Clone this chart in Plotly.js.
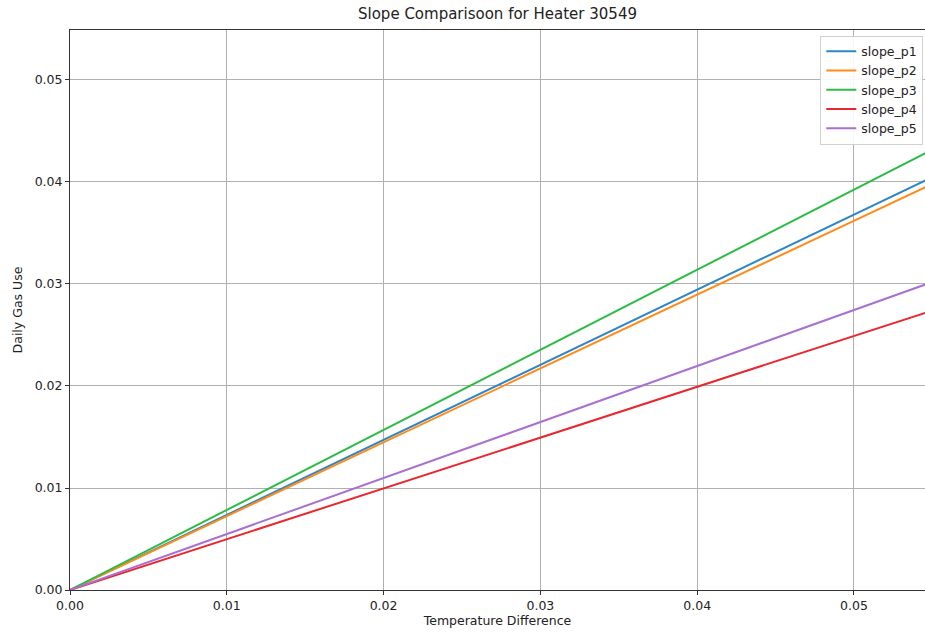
<!DOCTYPE html>
<html>
<head>
<meta charset="utf-8">
<script src="https://cdn.plot.ly/plotly-3.0.1.min.js"></script>
<style>html,body{margin:0;padding:0;background:#fff;}#chart{width:925px;height:634px;}</style>
</head>
<body>
<div id="chart"></div>
<script>
const seriesNames = ["slope_p1", "slope_p2", "slope_p3", "slope_p4", "slope_p5"];
const xValues = [0, 0.06];
const slope_p1 = [0, 0.04416];
const slope_p2 = [0, 0.04344];
const slope_p3 = [0, 0.04710];
const slope_p4 = [0, 0.02988];
const slope_p5 = [0, 0.03294];
const seriesValues = [slope_p1, slope_p2, slope_p3, slope_p4, slope_p5];
const colors = ["#2e86c8", "#ff8c1a", "#2cbc46", "#e8282e", "#a970d0"];
const tickVals = [0, 0.01, 0.02, 0.03, 0.04, 0.05];
const tickText = ["0.00", "0.01", "0.02", "0.03", "0.04", "0.05"];

const font = "DejaVu Sans, sans-serif";
const traces = seriesNames.map((n, i) => ({
  x: xValues, y: seriesValues[i], name: n, type: "scatter", mode: "lines",
  line: {color: colors[i], width: 2}
}));

const layout = {
  width: 925, height: 634,
  margin: {l: 70, r: 0, t: 30, b: 44},
  paper_bgcolor: "#fff", plot_bgcolor: "#fff",
  font: {family: font, size: 12.5, color: "#222"},
  title: {text: "Slope Comparisoon for Heater 30549", font: {family: font, size: 15, color: "#222"},
          x: 0.5, xref: "paper", xanchor: "center", y: 1, yref: "container", yanchor: "top", pad: {t: 8}},
  xaxis: {range: [0, 0.05453], tickvals: tickVals, ticktext: tickText,
          showgrid: true, gridcolor: "#b0b0b0", gridwidth: 1, zeroline: false,
          showline: true, linecolor: "#333", linewidth: 1, mirror: true,
          ticks: "outside", ticklen: 4, tickcolor: "#333",
          title: {text: "Temperature Difference", font: {family: font, size: 12.5}, standoff: 4},
          tickfont: {family: font, size: 12.5, color: "#222"}},
  yaxis: {range: [0, 0.0549], tickvals: tickVals, ticktext: tickText,
          showgrid: true, gridcolor: "#b0b0b0", gridwidth: 1, zeroline: false,
          showline: true, linecolor: "#333", linewidth: 1,
          ticks: "outside", ticklen: 4, tickcolor: "#333",
          title: {text: "Daily Gas Use", font: {family: font, size: 12.5}, standoff: 9},
          tickfont: {family: font, size: 12.5, color: "#222"}},
  legend: {x: 0.998, y: 0.99, xanchor: "right", yanchor: "top",
           bgcolor: "rgba(255,255,255,0.9)", bordercolor: "#d0d0d0", borderwidth: 1,
           font: {family: font, size: 12.5, color: "#222"}, tracegroupgap: 0, itemwidth: 30},
  showlegend: true
};

Plotly.newPlot("chart", traces, layout, {displayModeBar: false, staticPlot: true});
</script>
</body>
</html>
